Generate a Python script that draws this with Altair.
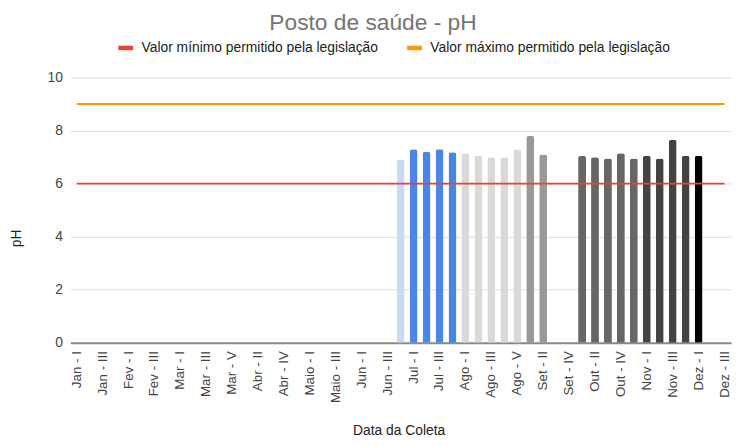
import altair as alt
import pandas as pd

months = ["Jan", "Fev", "Mar", "Abr", "Maio", "Jun", "Jul", "Ago", "Set", "Out", "Nov", "Dez"]
collections_per_month = [4, 4, 5, 5, 4, 4, 4, 5, 4, 5, 4, 3]
roman = ["I", "II", "III", "IV", "V"]

categories = []
month_of = []
for m, n in zip(months, collections_per_month):
    for r in roman[:n]:
        categories.append(f"{m} - {r}")
        month_of.append(m)

ph_values = (
    [None] * 25            # Jan - I ... Jun - III
    + [6.9]                # Jun - IV
    + [7.3, 7.2, 7.3, 7.18]            # Jul
    + [7.15, 7.05, 7.0, 7.0, 7.3]      # Ago
    + [7.8, 7.1, None, None]           # Set
    + [7.05, 7.0, 6.95, 7.15, 6.95]    # Out
    + [7.05, 6.95, 7.65, 7.05]         # Nov
    + [7.05, None, None]               # Dez
)

limit_names = ["Valor mínimo permitido pela legislação", "Valor máximo permitido pela legislação"]
limit_values = [6, 9]

month_colors = {
    "Jan": "#4285f4", "Fev": "#4285f4", "Mar": "#4285f4", "Abr": "#4285f4", "Maio": "#4285f4",
    "Jun": "#c9daf8", "Jul": "#4a86e8", "Ago": "#d9d9d9", "Set": "#999999",
    "Out": "#666666", "Nov": "#434343", "Dez": "#000000",
}

bars_df = pd.DataFrame({"cat": categories, "month": month_of, "ph": ph_values})
bars_df = bars_df.dropna()
bars_df["color"] = bars_df["month"].map(month_colors)

# limit series run across all collection dates (first to last category)
limit_rows = []
for name, val in zip(limit_names, limit_values):
    for c in (categories[0], categories[-1]):
        limit_rows.append({"name": name, "cat": c, "value": val})
limits_df = pd.DataFrame(limit_rows)

FONT = "Liberation Sans"
W, H = 668, 268

x_scale = alt.Scale(domain=categories, paddingInner=0, paddingOuter=0)
x_axis = alt.Axis(
    title="Data da Coleta",
    values=categories[::2],
    labelAngle=-90,
    labelFontSize=13.5,
    labelColor="#444444",
    labelFont=FONT,
    labelPadding=8,
    ticks=False,
    domainColor="#8a8a8a",
    domainWidth=2,
    grid=False,
    titleFont=FONT,
    titleFontSize=14,
    titleFontWeight="normal",
    titleColor="#222222",
    titleX=332,
    titleY=89,
    titleBaseline="middle",
)

y_scale = alt.Scale(domain=[0, 10], nice=False)
y_axis = alt.Axis(
    title="pH",
    values=[0, 2, 4, 6, 8, 10],
    labelFontSize=14,
    labelColor="#444444",
    labelFont=FONT,
    labelPadding=8,
    ticks=False,
    domain=False,
    gridColor="#e0e0e0",
    titleFont=FONT,
    titleFontSize=14,
    titleFontWeight="normal",
    titleColor="#222222",
    titleX=-54,
    titleY=162,
    titleBaseline="middle",
)

bars = alt.Chart(bars_df).mark_bar(width=8, cornerRadiusTopLeft=2.5, cornerRadiusTopRight=2.5).encode(
    x=alt.X("cat:N", sort=categories, scale=x_scale, axis=x_axis),
    y=alt.Y("ph:Q", scale=y_scale, axis=y_axis),
    color=alt.Color("color:N", scale=None),
)

lines = alt.Chart(limits_df).mark_line(strokeWidth=2).encode(
    x=alt.X("cat:N", sort=categories, scale=x_scale),
    y=alt.Y("value:Q", scale=y_scale),
    color=alt.Color(
        "name:N",
        sort=limit_names,
        scale=alt.Scale(domain=limit_names, range=["#ea4335", "#ff9900"]),
        legend=alt.Legend(
            title=None,
            orient="none",
            direction="horizontal",
            legendX=46,
            legendY=-40,
            symbolType="stroke",
            symbolStrokeWidth=4.5,
            symbolSize=225,
            labelOffset=6,
            labelFont=FONT,
            labelFontSize=14,
            labelColor="#222222",
            labelLimit=0,
            columnPadding=19,
        ),
    ),
)

chart = alt.layer(bars, lines).properties(
    width=W,
    height=H,
    autosize=alt.AutoSizeParams(type="none"),
    padding={"left": 63, "top": 68, "right": 3, "bottom": 94},
    title=alt.TitleParams(
        "Posto de saúde - pH",
        font=FONT,
        fontSize=23,
        fontWeight="normal",
        color="#757575",
        anchor="middle",
        dx=-28,
        offset=3,
        frame="group",
    ),
).configure_view(stroke=None)

chart.save("out.html", embed_options={"renderer": "svg", "actions": False})
